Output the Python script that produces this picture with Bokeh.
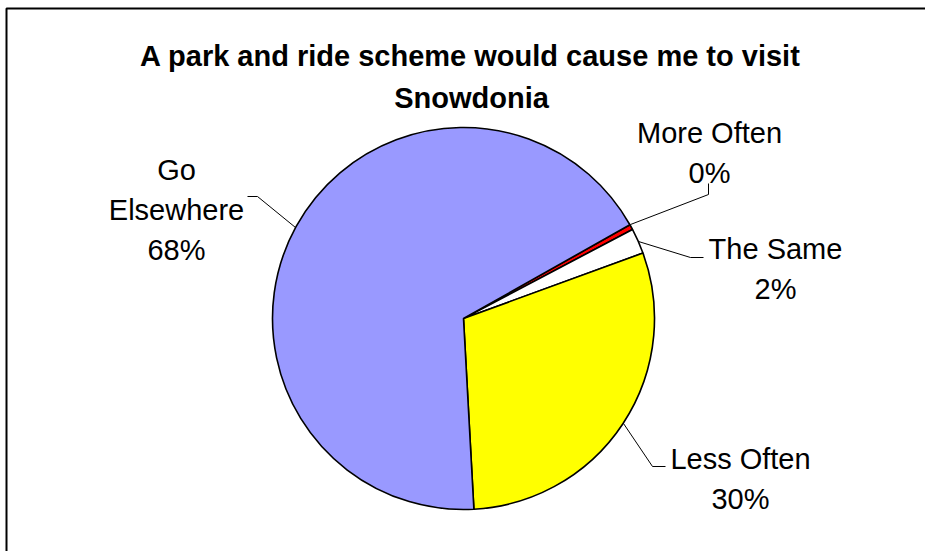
import math
from bokeh.plotting import figure
from bokeh.models import Range1d, ColumnDataSource
from bokeh.core.properties import value
from bokeh.embed import file_html
from bokeh.resources import INLINE

# ---- data ----
categories = ["More Often", "The Same", "Less Often", "Go Elsewhere"]
shares = [0.45, 2.15, 29.7, 67.7]          # percent
colors = ["#FF0000", "#FFFFFF", "#FFFF00", "#9999FF"]
title_lines = ["A park and ride scheme would cause me to visit", "Snowdonia"]

# ---- layout (screen pixels, y measured from top) ----
W, H = 925, 551
CX, CY, R = 463, 318, 191
FIRST_SLICE_DEG = 60.6                     # clockwise from 12 o'clock
FONT = "Liberation Sans"
FS = "29px"

# label anchors: (center x, baseline of first line)
label_pos = {
    "More Often": (709, 132),
    "The Same": (775, 248),
    "Go Elsewhere": (176, 169),
    "Less Often": (740, 458),
}
leaders = {
    "More Often": [(630, 224), (708, 194), (708, 183)],
    "The Same": [(638, 241), (690, 257), (703, 257)],
    "Go Elsewhere": [(295, 227), (257, 196), (247, 196)],
    "Less Often": [(623, 423), (652, 466), (665, 466)],
}
label_text = {
    "More Often": ["More Often"],
    "The Same": ["The Same"],
    "Go Elsewhere": ["Go", "Elsewhere"],
    "Less Often": ["Less Often"],
}
LINE_STEP = 40


def Y(s):
    return H - s


p = figure(width=W, height=H, output_backend="svg", toolbar_location=None,
           x_range=Range1d(0, W), y_range=Range1d(0, H), min_border=0)
p.axis.visible = False
p.grid.visible = False
p.outline_line_color = None
p.background_fill_color = "white"
p.border_fill_color = "white"

# chart frame (left and top edges visible; the rest runs off the page)
p.line([6, 6, W + 20], [-20, Y(8), Y(8)], line_color="black", line_width=2)

# pie wedges (clockwise from FIRST_SLICE_DEG)
total = sum(shares)
starts, ends = [], []
acc = FIRST_SLICE_DEG
for s in shares:
    a0 = acc
    a1 = acc + s / total * 360.0
    starts.append(math.radians(90 - a0))
    ends.append(math.radians(90 - a1))
    acc = a1
src = ColumnDataSource(dict(start=starts, end=ends, color=colors, cat=categories))
p.wedge(x=CX, y=Y(CY), radius=R, start_angle="start", end_angle="end",
        direction="clock", fill_color="color", line_color="black",
        line_width=1.6, source=src)

# leader lines
for cat in categories:
    pts = leaders[cat]
    p.line([q[0] for q in pts], [Y(q[1]) for q in pts], line_color="black",
           line_width=1)

# labels
xs, ys, texts = [], [], []
for cat, sh in zip(categories, shares):
    lx, ly = label_pos[cat]
    lines = label_text[cat] + [f"{round(sh):d}%"]
    for i, t in enumerate(lines):
        xs.append(lx)
        ys.append(Y(ly + i * LINE_STEP))
        texts.append(t)
p.text(x=xs, y=ys, text=texts, text_font=value(FONT), text_font_size=FS,
       text_align="center", text_baseline="alphabetic", text_color="black")

# title
p.text(x=[470, 471], y=[Y(55.7), Y(97.7)], text=title_lines,
       text_font=value(FONT), text_font_size=FS, text_font_style="bold",
       text_align="center", text_baseline="alphabetic", text_color="black")

open("out.html", "w").write(file_html(p, INLINE))
